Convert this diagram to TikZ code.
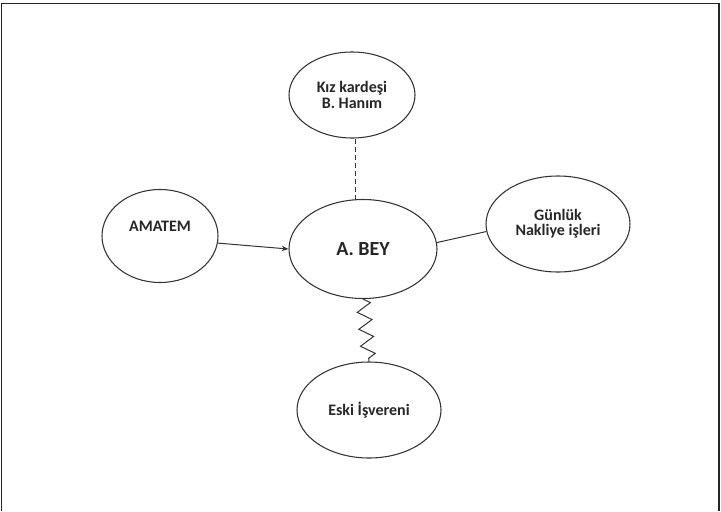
\documentclass[tikz,border=0pt]{standalone}
\usepackage{fontspec}
\setmainfont{Carlito}
\usetikzlibrary{shapes.geometric,arrows.meta,decorations.pathmorphing}
\begin{document}
\begin{tikzpicture}[x=0.75pt,y=-0.75pt,
  bubble/.style={draw=black!80, line width=0.8pt, ellipse, inner sep=0pt, align=center,
    font=\fontsize{12}{11.5}\selectfont\bfseries, text=black!85},
  frameline/.style={line width=1.1pt, black!85},
  link/.style={draw=black!80, line width=0.75pt}]
\useasboundingbox (0,0) rectangle (721,511);
\draw[frameline] (1.5,511) -- (1.5,3.5) -- (719.2,3.5) -- (719.2,511);
\node[bubble, minimum width=126*0.75pt, minimum height=86*0.75pt] (kiz) at (352,95) {Kız kardeşi\\B. Hanım};
\node[bubble, minimum width=116*0.75pt, minimum height=93*0.75pt] (amatem) at (160,236) {AMATEM\\[0pt]\strut};
\node[bubble, minimum width=148*0.75pt, minimum height=99*0.75pt, font=\fontsize{15}{16}\selectfont\bfseries] (bey) at (363,249) {A. BEY};
\node[bubble, minimum width=144*0.75pt, minimum height=96*0.75pt] (gunluk) at (558,224) {Günlük\\Nakliye işleri};
\node[bubble, minimum width=144*0.75pt, minimum height=96*0.75pt] (eski) at (369,410) {Eski İşvereni};
\draw[link, dash pattern=on 3.75pt off 2.25pt] (kiz.south) ++(3,0) coordinate (dtop) -- (dtop |- bey.north);
\draw[link, -{Stealth[length=5pt,width=4pt]}] (amatem.-7) -- (bey.west);
\draw[link] (bey.5) -- (gunluk.186);
\draw[link, decorate, decoration={zigzag, segment length=17*0.75pt, amplitude=7*0.75pt}] (bey.south) -- (eski.north);
\end{tikzpicture}
\end{document}
